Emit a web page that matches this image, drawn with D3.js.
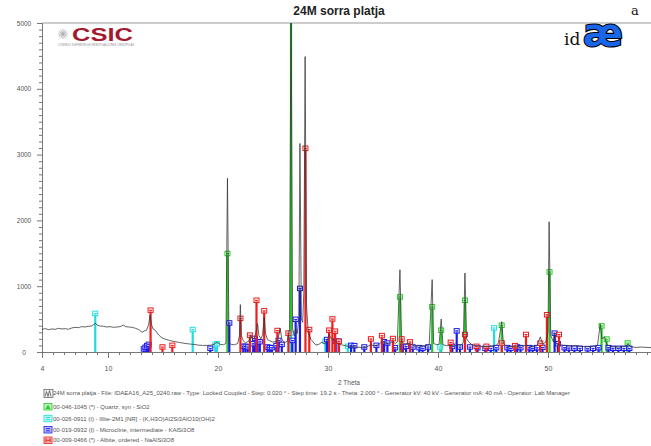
<!DOCTYPE html>
<html><head><meta charset="utf-8">
<script src="https://cdn.jsdelivr.net/npm/d3@7"></script>
<style>body{margin:0;background:#fff;} svg{display:block;font-family:"Liberation Sans",Arial,sans-serif;}</style>
</head><body><svg id="c" width="651" height="446"></svg>
<script>
const scan2Theta = [4.0,4.3,4.6,4.9,5.2,5.5,5.8,6.1,6.4,6.7,7.0,7.3,7.6,7.9,8.2,8.5,8.75,8.85,9.0,9.3,9.6,9.9,10.2,10.5,10.8,11.1,11.4,11.6,11.9,12.2,12.5,12.8,13.1,13.3,13.5,13.7,13.82,13.95,14.1,14.3,14.6,14.9,15.2,15.6,16.0,16.5,17.0,17.5,17.8,18.2,18.6,19.0,19.4,19.7,19.85,20.0,20.2,20.5,20.72,20.86,21.0,21.2,21.5,21.8,21.95,22.03,22.12,22.3,22.5,22.8,23.0,23.1,23.3,23.45,23.6,23.72,23.9,24.05,24.2,24.32,24.5,24.7,25.0,25.3,25.5,25.65,25.8,26.0,26.3,26.5,26.64,26.78,26.95,27.05,27.2,27.35,27.45,27.58,27.7,27.8,27.92,28.05,28.2,28.45,28.9,29.2,29.45,29.7,29.95,30.1,30.3,30.6,30.9,31.2,31.6,32.0,32.5,33.0,33.5,33.9,34.2,34.6,34.97,35.2,35.5,35.85,36.1,36.3,36.54,36.7,37.0,37.4,37.7,38.0,38.4,38.8,39.2,39.47,39.6,39.9,40.1,40.29,40.45,40.8,41.2,41.5,41.8,42.1,42.3,42.45,42.6,42.8,43.1,43.5,44.0,44.5,45.0,45.3,45.5,45.79,45.95,46.2,46.6,47.0,47.5,48.0,48.5,49.0,49.3,49.5,49.8,50.0,50.1,50.25,50.5,50.6,50.75,51.0,51.5,52.0,52.5,53.0,53.5,54.0,54.5,54.75,54.9,55.15,55.35,55.7,56.0,56.5,57.0,57.3,57.5,58.0,58.5,59.0,59.5,60.0];
const scanCounts = [345,355,340,350,345,360,350,355,345,365,375,370,385,380,390,395,420,440,410,395,390,380,385,375,380,385,410,385,380,375,360,340,300,320,330,420,560,420,350,330,260,215,195,175,160,145,130,120,115,105,100,100,105,120,150,140,115,110,130,2640,140,115,110,130,250,720,250,170,140,165,260,200,210,300,430,250,200,260,520,280,190,170,150,160,230,360,200,140,160,350,5600,350,240,350,280,500,3170,500,450,900,4490,700,300,190,105,120,150,120,180,270,200,180,130,110,95,85,75,70,75,110,95,110,170,140,120,160,130,150,1250,160,120,130,100,90,95,90,110,1100,130,110,120,500,110,95,100,90,110,100,150,1200,200,150,110,95,85,80,90,100,140,460,130,90,80,85,90,100,85,95,230,120,150,300,1980,250,150,290,130,110,100,90,100,85,80,85,100,425,200,228,110,85,80,75,85,120,80,70,75,70,65,60];

// ---- reference patterns (stick positions, heights in counts) ----
const quartz2Theta = [20.86,26.64,36.54,39.47,40.29,42.45,45.79,50.14,54.87,55.33,57.24,59.96];
const quartzCounts = [1500,5600,840,690,335,790,410,1220,400,200,140,400];
const illite2Theta = [8.84,17.7,19.75,19.9,23.4,26.6,29.76,31.8,40.2,45.1];
const illiteCounts = [590,345,110,130,160,290,167,90,80,370];
const microcline2Theta = [13.25,13.4,13.55,13.7,19.3,21.03,22.3,22.5,22.7,23.2,23.36,23.6,23.8,24.5,24.7,24.9,25.3,25.5,25.8,26.76,27.06,27.45,29.9,30.7,30.97,32.1,32.4,33.3,34.4,35.1,35.4,36.1,36.8,37.1,37.7,38.3,38.6,39.1,41.3,41.7,42.0,42.9,43.6,44.3,44.8,45.3,46.3,46.6,47.2,47.5,48.3,48.6,49.0,49.5,50.6,50.9,51.5,51.9,52.4,52.9,53.6,54.1,54.6,55.5,55.9,56.4,56.9,57.4];
const microclineCounts = [50,75,100,120,60,445,90,90,80,130,210,150,160,80,70,70,100,180,120,180,500,970,193,170,167,105,100,80,105,160,140,70,80,90,80,70,60,80,90,325,80,80,70,60,60,70,70,60,80,70,70,60,70,75,290,130,70,65,60,60,55,60,70,70,60,60,60,60];
const albite2Theta = [13.87,14.95,15.85,22.04,22.9,23.5,24.2,25.4,26.4,27.95,28.3,30.1,30.4,30.65,31.0,33.9,34.9,35.9,36.7,37.45,41.15,42.45,43.5,44.4,45.8,47.0,48.0,49.3,49.9,51.0];
const albiteCounts = [640,80,105,515,260,790,630,330,290,3100,345,335,506,320,167,202,253,208,202,157,150,270,90,90,140,100,270,137,570,270];

// ---- axes / labels ----
const xTickValues = [4,10,20,30,40,50];
const yTickValues = [0,1000,2000,3000,4000,5000];
const chartTitle = "24M sorra platja";
const xAxisTitle = "2 Theta";
const legendLabels = [
  "24M sorra platja - File: IDAEA16_A25_0240.raw - Type: Locked Coupled - Step: 0.020 ° - Step time: 19.2 s - Theta: 2.000 ° - Generator kV: 40 kV - Generator mA: 40 mA - Operator: Lab Manager",
  "00-046-1045 (*) - Quartz, syn - SiO2",
  "00-026-0911 (I) - Illite-2M1 [NR] - (K,H3O)Al2Si3AlO10(OH)2",
  "00-019-0932 (I) - Microcline, intermediate - KAlSi3O8",
  "00-009-0466 (*) - Albite, ordered - NaAlSi3O8"
];
const phaseColors = ["#666666","#22cc22","#22dddd","#1a1aee","#ee1c1c"];

const svg = d3.select("#c");
const x = d3.scaleLinear().domain([4,60]).range([42,658]);
const y = d3.scaleLinear().domain([0,5000]).range([352,23]);

svg.append("defs").append("clipPath").attr("id","plot")
  .append("rect").attr("x",42).attr("y",23).attr("width",620).attr("height",335);

// title
svg.append("text").attr("x",339).attr("y",15).attr("text-anchor","middle")
  .attr("font-weight","bold").attr("font-size",12).attr("fill","#222").text(chartTitle);

// top frame line
svg.append("line").attr("x1",42).attr("x2",651).attr("y1",23).attr("y2",23).attr("stroke","#999");

// x axis
const gx = svg.append("g").attr("transform","translate(0,352)");
gx.call(d3.axisBottom(x).tickValues(d3.range(5,60,1).filter(v=>v%10!==0)).tickSize(3).tickSizeOuter(0).tickFormat(""));
gx.append("g").call(d3.axisBottom(x).tickValues(xTickValues).tickSize(6).tickSizeOuter(0).tickFormat(d3.format("d")));
gx.selectAll("path.domain").attr("stroke","#777");
gx.selectAll("line").attr("stroke","#777");
gx.selectAll("text").attr("font-size",7).attr("fill","#555").attr("font-family","Liberation Sans, Arial").attr("y",14).attr("dy","0.71em");

// y axis
const gy = svg.append("g").attr("transform","translate(42,0)");
gy.call(d3.axisLeft(y).tickValues(d3.range(100,5000,100).filter(v=>v%1000!==0)).tickSize(3).tickSizeOuter(0).tickFormat(""));
gy.append("g").call(d3.axisLeft(y).tickValues(yTickValues).tickSize(5).tickSizeOuter(0).tickFormat(d3.format("d")));
gy.selectAll("path.domain").attr("stroke","#777");
gy.selectAll("line").attr("stroke","#777");
gy.selectAll("text").attr("font-size",6.5).attr("fill","#555").attr("font-family","Liberation Sans, Arial")
  .attr("text-anchor","middle").attr("x",-18);

// x title
svg.append("text").attr("x",349).attr("y",385).attr("text-anchor","middle")
  .attr("font-size",6.5).attr("fill","#555").text(xAxisTitle);

const plot = svg.append("g").attr("clip-path","url(#plot)");

// sticks
const phases = [
  {t:quartz2Theta,c:quartzCounts,col:phaseColors[1]},
  {t:illite2Theta,c:illiteCounts,col:phaseColors[2]},
  {t:microcline2Theta,c:microclineCounts,col:phaseColors[3]},
  {t:albite2Theta,c:albiteCounts,col:phaseColors[4]}
];
phases.forEach(p=>{
  const data = p.t.map((t,i)=>({t, c:p.c[i]}));
  const g = plot.append("g");
  g.selectAll("line").data(data).enter().append("line")
    .attr("x1",d=>x(d.t)).attr("x2",d=>x(d.t)).attr("y1",y(0)).attr("y2",d=>y(d.c))
    .attr("stroke",p.col).attr("stroke-width",2.2);
  const m = g.selectAll("g.m").data(data).enter().append("g")
    .attr("transform",d=>`translate(${x(d.t)},${y(d.c)})`);
  m.append("rect").attr("x",-2.5).attr("y",-2).attr("width",5).attr("height",4.5)
    .attr("fill","#fff").attr("fill-opacity",0.5).attr("stroke",p.col).attr("stroke-width",1);
  m.append("line").attr("x1",-1.5).attr("x2",1.5).attr("y1",0.3).attr("y2",0.3).attr("stroke",p.col).attr("stroke-width",1);
});

// scan
const scanData = scan2Theta.map((t,i)=>[t,scanCounts[i]]);
plot.append("path").datum(scanData)
  .attr("d",d3.line().x(d=>x(d[0])).y(d=>y(d[1])))
  .attr("fill","none").attr("stroke","#333").attr("stroke-opacity",0.85).attr("stroke-width",0.9);

// legend
const rowY = [392.5,406.5,418.3,429.5,440];
const lg = svg.append("g");
legendLabels.forEach((lab,i)=>{
  const cy = rowY[i], col = phaseColors[i];
  const ig = lg.append("g").attr("transform",`translate(43.5,${cy-3.5})`);
  ig.append("rect").attr("x",0.5).attr("y",0.5).attr("width",i===0?9:8).attr("height",i===0?8:6.5)
    .attr("fill", i===0?"#f4f4f4":d3.interpolateRgb(col,"#ffffff")(0.72)).attr("stroke",col).attr("stroke-width",0.8);
  if(i===0){
    ig.append("path").attr("d","M1.5,7.5 L3,2.5 L4.5,7.5 L6,1.5 L7.5,7.5").attr("fill","none").attr("stroke","#555").attr("stroke-width",0.8);
  } else if(i===1){
    ig.append("path").attr("d","M4.5,1.5 L7,6 L2,6 Z").attr("fill",col);
  } else if(i===4){
    ig.append("path").attr("d","M2.5,1.8 V5.8 M6.5,1.8 V5.8 M2.5,3.8 H6.5").attr("stroke",col).attr("stroke-width",1.1);
  } else {
    ig.append("path").attr("d","M2.3,2.7 H6.7 M2.3,4.9 H6.7").attr("stroke",col).attr("stroke-width",1);
  }
  lg.append("text").attr("x",53).attr("y",cy+2.2).attr("font-size",6).attr("fill","#555").text(lab);
});

// CSIC logo
const lc = svg.append("g");
lc.append("g").attr("stroke","#aaa").attr("stroke-width",0.8).selectAll("line")
  .data(d3.range(0,180,30)).enter().append("line")
  .attr("x1",d=>63+5*Math.cos(d*Math.PI/180)).attr("y1",d=>34+5*Math.sin(d*Math.PI/180))
  .attr("x2",d=>63-5*Math.cos(d*Math.PI/180)).attr("y2",d=>34-5*Math.sin(d*Math.PI/180));
lc.append("text").attr("x",72).attr("y",41).attr("font-size",18).attr("font-weight","bold")
  .attr("fill","#a3192d").attr("textLength",61).attr("lengthAdjust","spacingAndGlyphs").text("CSIC");
lc.append("text").attr("x",58).attr("y",46).attr("font-size",2.6).attr("fill","#888")
  .attr("textLength",76).text("CONSEJO SUPERIOR DE INVESTIGACIONES CIENTÍFICAS");

// IDAEA logo
const li = svg.append("g");
li.append("text").attr("x",564).attr("y",45).attr("font-size",17).attr("font-family","DejaVu Serif, serif").attr("fill","#111").text("id");
li.append("text").attr("x",583).attr("y",46).attr("font-size",38).attr("font-weight","bold").attr("font-family","DejaVu Sans, sans-serif")
  .attr("fill","#1a66e8").attr("stroke","#000").attr("stroke-width",2.2).attr("paint-order","stroke").text("æ");
li.append("text").attr("x",631).attr("y",15).attr("font-size",13).attr("font-family","DejaVu Serif, serif").attr("fill","#111").text("a");
</script>
</body></html>
